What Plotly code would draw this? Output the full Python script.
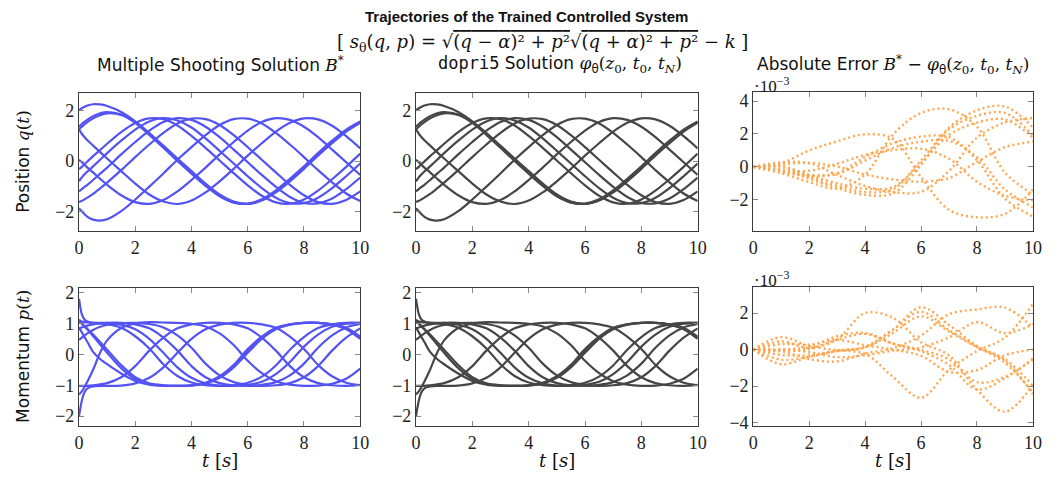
import plotly.graph_objects as go

# ---------------- data ----------------
t_grid = [0, 0.1, 0.2, 0.3, 0.5, 0.75, 1.0, 1.5, 2.0, 2.5, 3.0, 3.5, 4.0, 4.5,
          5.0, 5.5, 6.0, 6.5, 7.0, 7.5, 8.0, 8.5, 9.0, 9.5, 10.0]

# position q(t), one list per trajectory
q_values = [
    [2.0, 2.079, 2.142, 2.19, 2.238, 2.23, 2.17, 1.935, 1.565, 1.105, 0.605, 0.10, -0.40, -0.89, -1.32, -1.60, -1.695, -1.56, -1.24, -0.80, -0.31, 0.21, 0.70, 1.16, 1.51],
    [1.35, 1.457, 1.55, 1.635, 1.77, 1.885, 1.93, 1.83, 1.50, 1.03, 0.52, 0.0, -0.50, -0.98, -1.39, -1.64, -1.68, -1.51, -1.16, -0.70, -0.21, 0.31, 0.80, 1.24, 1.56],
    [1.25, 1.35, 1.45, 1.535, 1.68, 1.81, 1.88, 1.82, 1.53, 1.08, 0.56, 0.05, -0.45, -0.94, -1.35, -1.62, -1.69, -1.54, -1.20, -0.75, -0.26, 0.26, 0.75, 1.20, 1.54],
    [1.25, 1.075, 0.94, 0.82, 0.61, 0.35, 0.10, -0.40, -0.89, -1.32, -1.60, -1.695, -1.56, -1.24, -0.80, -0.31, 0.21, 0.70, 1.16, 1.51, 1.68, 1.64, 1.39, 0.98, 0.50],
    [0.05, -0.05, -0.155, -0.26, -0.45, -0.70, -0.94, -1.35, -1.62, -1.69, -1.54, -1.20, -0.75, -0.26, 0.26, 0.75, 1.20, 1.54, 1.69, 1.62, 1.35, 0.94, 0.45, -0.05, -0.55],
    [-0.32, -0.23, -0.12, -0.02, 0.19, 0.43, 0.68, 1.14, 1.50, 1.68, 1.645, 1.40, 0.99, 0.52, 0.02, -0.48, -0.96, -1.37, -1.63, -1.685, -1.52, -1.17, -0.72, -0.23, 0.29],
    [-0.8, -0.645, -0.525, -0.416, -0.21, 0.05, 0.31, 0.80, 1.24, 1.56, 1.695, 1.60, 1.32, 0.89, 0.40, -0.10, -0.60, -1.07, -1.45, -1.66, -1.66, -1.45, -1.07, -0.60, -0.10],
    [-1.20, -1.11, -1.02, -0.94, -0.75, -0.50, -0.26, 0.26, 0.75, 1.20, 1.54, 1.69, 1.62, 1.35, 0.94, 0.45, -0.05, -0.55, -1.02, -1.42, -1.65, -1.67, -1.48, -1.11, -0.65],
    [-1.62, -1.57, -1.51, -1.445, -1.30, -1.08, -0.85, -0.36, 0.155, 0.65, 1.11, 1.48, 1.67, 1.65, 1.42, 1.02, 0.55, 0.05, -0.45, -0.94, -1.35, -1.62, -1.69, -1.54, -1.20],
    [-1.86, -1.985, -2.10, -2.20, -2.31, -2.35, -2.30, -1.98, -1.52, -1.01, -0.49, 0.05, 0.55, 1.02, 1.42, 1.65, 1.67, 1.48, 1.11, 0.65, 0.155, -0.36, -0.84, -1.28, -1.58],
]

# momentum p(t), one list per trajectory
p_values = [
    [0.87, 0.71, 0.55, 0.40, 0.08, -0.15, -0.32, -0.62, -0.86, -0.98, -1.02, -1.02, -1.01, -0.94, -0.76, -0.42, 0.05, 0.50, 0.81, 0.96, 1.02, 1.02, 0.97, 0.86, 0.57],
    [1.12, 1.01, 0.90, 0.80, 0.59, 0.32, 0.05, -0.45, -0.80, -0.96, -1.01, -1.02, -1.0, -0.92, -0.71, -0.34, 0.17, 0.57, 0.86, 0.97, 1.02, 1.02, 0.96, 0.81, 0.50],
    [1.08, 0.99, 0.90, 0.82, 0.64, 0.40, 0.15, -0.35, -0.74, -0.94, -1.0, -1.02, -1.0, -0.93, -0.74, -0.38, 0.12, 0.54, 0.84, 0.97, 1.02, 1.02, 0.97, 0.84, 0.54],
    [-2.0, -1.5, -1.22, -1.10, -1.04, -1.02, -1.02, -1.01, -0.94, -0.76, -0.42, 0.05, 0.50, 0.81, 0.96, 1.02, 1.02, 0.97, 0.86, 0.57, 0.17, -0.34, -0.71, -0.92, -1.0],
    [-1.02, -1.02, -1.02, -1.02, -1.0, -0.97, -0.93, -0.74, -0.38, 0.12, 0.54, 0.84, 0.97, 1.02, 1.02, 0.97, 0.84, 0.54, 0.12, -0.38, -0.74, -0.93, -1.0, -1.02, -0.99],
    [1.10, 1.06, 1.04, 1.03, 1.02, 1.0, 0.975, 0.86, 0.585, 0.19, -0.32, -0.70, -0.91, -1.0, -1.02, -1.0, -0.92, -0.72, -0.36, 0.15, 0.56, 0.85, 0.97, 1.02, 1.02],
    [1.8, 1.3, 1.12, 1.06, 1.02, 1.02, 1.02, 0.96, 0.81, 0.50, 0.05, -0.42, -0.76, -0.94, -1.01, -1.02, -0.99, -0.89, -0.64, -0.25, 0.25, 0.64, 0.89, 0.99, 1.02],
    [0.84, 0.87, 0.90, 0.93, 0.97, 1.0, 1.02, 1.02, 0.97, 0.84, 0.54, 0.12, -0.38, -0.74, -0.93, -1.0, -1.02, -0.99, -0.90, -0.68, -0.30, 0.21, 0.61, 0.87, 0.98],
    [0.47, 0.54, 0.61, 0.68, 0.79, 0.89, 0.95, 1.01, 1.02, 0.98, 0.87, 0.61, 0.21, -0.30, -0.68, -0.90, -0.99, -1.02, -1.0, -0.93, -0.74, -0.38, 0.12, 0.54, 0.84],
    [-1.30, -1.20, -1.05, -0.88, -0.50, 0.05, 0.45, 0.85, 1.0, 1.04, 1.03, 1.02, 0.99, 0.90, 0.68, 0.30, -0.21, -0.61, -0.87, -0.98, -1.02, -1.01, -0.95, -0.79, -0.46],
]

t_err = [0, 1, 2, 3, 4, 5, 6, 7, 8, 9, 10]

# absolute error of q (units of 1e-3)
q_error = [
    [0, -0.13, -0.72, -1.29, -1.70, -1.60, 0.13, 2.38, 3.43, 3.67, 2.39],
    [0, 0.02, -0.61, -1.15, -1.52, -1.35, 0.39, 2.29, 3.10, 3.28, 1.90],
    [0, 0.05, -0.49, -0.99, -1.32, -1.22, 0.24, 1.94, 2.69, 2.88, 1.78],
    [0, -0.31, -0.56, -0.38, 0.60, 1.44, 1.84, 1.81, 0.41, -1.92, -3.0],
    [0, 0.28, 0.23, -0.49, -1.16, -1.53, -1.51, -0.25, 1.78, 2.70, 2.97],
    [0, -0.20, -0.23, 0.19, 0.73, 1.02, 1.10, 0.50, -0.90, -1.75, -2.04],
    [0, 0.15, 0.24, 0.02, -0.46, -0.76, -0.89, -0.67, 0.30, 1.20, 1.53],
    [0, -0.26, -0.49, -0.41, 0.38, 1.16, 1.53, 1.58, 0.60, -1.37, -2.45],
    [0, -0.38, -0.92, -1.31, -0.46, 1.97, 3.27, 3.50, 2.44, -0.34, -1.68],
    [0, 0.23, 1.0, 1.55, 1.98, 1.70, -0.61, -2.61, -3.06, -2.85, -1.38],
]

# absolute error of p (units of 1e-3)
p_error = [
    [0, -0.29, -0.30, -0.05, 0.13, 1.09, 2.32, 1.35, 0.20, -0.60, -2.44],
    [0, -0.80, -0.39, -0.07, 0.15, 1.10, 2.07, 1.06, 0.15, -0.72, -2.36],
    [0, -0.55, -0.39, -0.08, 0.12, 0.91, 1.82, 0.99, 0.13, -0.53, -1.98],
    [0, 0.01, 0.15, 0.73, 0.91, 0.32, -0.09, -0.84, -2.18, -1.57, -0.48],
    [0, -0.08, -0.52, -0.65, -0.22, 0.08, 0.77, 1.93, 2.2, 2.3, 1.2],
    [0, 0.30, 0.27, 0.53, 0.24, 0.0, -0.34, -1.22, -1.12, -0.31, 0.0],
    [0, -0.01, -0.14, -0.41, -0.31, -0.06, 0.12, 0.67, 1.5, 0.9, 1.4],
    [0, 0.45, 0.09, 0.54, 0.86, 0.33, -0.02, -0.54, -1.78, -1.49, -0.55],
    [0, -0.09, 0.03, 0.56, 2.0, 1.74, 0.40, -0.32, -2.2, -3.4, -1.9],
    [0, 0.68, 0.19, -0.03, -0.24, -1.5, -2.64, -1.11, -0.09, 0.66, 2.5],
]

x_ticks = [0, 2, 4, 6, 8, 10]
q_ticks = [-2, 0, 2]
p_ticks = [-2, -1, 0, 1, 2]
eq_ticks = [-2, 0, 2, 4]
ep_ticks = [-4, -2, 0, 2]

# ---------------- styling ----------------
W, H = 1056, 487
BLUE = "#5353f3"
GRAY = "#464646"
ORANGE = "#ffa64f"
AXC = "#3a3a3a"
SERIF = "Liberation Serif"
MATH = "DejaVu Serif"
SANS = "DejaVu Sans"


def px(x):
    return x / W


def py(y):
    return 1 - y / H


fig = go.Figure()

cols = [(75, 360), (416.5, 702), (758.3, 1041.7)]
rows_main = [(90, 231.7), (290, 431.7)]
rows_err = [(89, 231.7), (289.3, 431.7)]

axis_ids = {}
k = 0
for r in range(2):
    for c in range(3):
        k += 1
        axis_ids[(r, c)] = k

for r in range(2):
    for c in range(3):
        k = axis_ids[(r, c)]
        series_vals = q_values if r == 0 else p_values
        if c < 2:
            color = BLUE if c == 0 else GRAY
            for vals in series_vals:
                fig.add_trace(go.Scatter(
                    x=t_grid, y=vals, mode="lines",
                    line=dict(color=color, width=2.2, shape="spline", smoothing=0.8),
                    xaxis=f"x{k}", yaxis=f"y{k}", showlegend=False, hoverinfo="skip"))
        else:
            evals = q_error if r == 0 else p_error
            for vals in evals:
                fig.add_trace(go.Scatter(
                    x=t_err, y=vals, mode="lines",
                    line=dict(color=ORANGE, width=2.4, shape="spline", smoothing=1.0,
                              dash="2px,3px"),
                    xaxis=f"x{k}", yaxis=f"y{k}", showlegend=False, hoverinfo="skip"))

layout = dict(
    width=W, height=H, margin=dict(l=0, r=0, t=0, b=0),
    paper_bgcolor="white", plot_bgcolor="white", showlegend=False,
)

common = dict(showline=True, linecolor=AXC, linewidth=1.1, mirror="ticks",
              ticks="inside", ticklen=5, tickcolor="#888888", tickwidth=1,
              showgrid=False, zeroline=False,
              tickfont=dict(family=SERIF, size=18, color="#222222"))

yranges = {0: [-2.76, 2.69], 1: [-2.32, 2.15]}
yticks = {0: q_ticks, 1: p_ticks}
for r in range(2):
    for c in range(3):
        k = axis_ids[(r, c)]
        x0, x1 = cols[c]
        if c < 2:
            y0, y1 = rows_main[r]
            yr = yranges[r]
            yt = yticks[r]
        else:
            y0, y1 = rows_err[r]
            yr = [-3.89, 4.56] if r == 0 else [-4.19, 3.42]
            yt = eq_ticks if r == 0 else ep_ticks
        xa = dict(common, domain=[px(x0), px(x1)], range=[0, 10], tickvals=x_ticks,
                  anchor=f"y{k}")
        ya = dict(common, domain=[py(y1), py(y0)], range=yr, tickvals=yt,
                  anchor=f"x{k}")
        layout[f"xaxis{'' if k == 1 else k}"] = xa
        layout[f"yaxis{'' if k == 1 else k}"] = ya

fig.update_layout(**layout)

ann = []


def add_text(x, y, text, size=15, family=SANS, xanchor="center", yanchor="middle",
             angle=0, color="#111111"):
    ann.append(dict(x=px(x), y=py(y), xref="paper", yref="paper", text=text,
                    showarrow=False, xanchor=xanchor, yanchor=yanchor, textangle=angle,
                    font=dict(family=family, size=size, color=color)))


def m(s):
    return f"<span style='font-family:{MATH}'><i>{s}</i></span>"


ARGS = ("<span style='font-family:" + MATH + "'>(<i>z</i><sub>0</sub>, "
        "<i>t</i><sub>0</sub>, <i>t<sub>N</sub></i>)</span>")

add_text(528, 12, "<b>Trajectories of the Trained Controlled System</b>", size=15,
         family="Liberation Sans")
ov = "text-decoration:overline"
formula = (f"[ <i>s</i><sub>θ</sub>(<i>q</i>, <i>p</i>) = "
           f"√<span style='{ov}'>(<i>q</i> − <i>α</i>)² + <i>p</i>²</span>"
           f"√<span style='{ov}'>(<i>q</i> + <i>α</i>)² + <i>p</i>²</span> − <i>k</i> ]")
add_text(545, 39, formula, size=18, family=MATH)

add_text(218, 61, "Multiple Shooting Solution " + m("B") + "<sup>*</sup>", size=17)
add_text(562, 61, "<span style='font-family:DejaVu Sans Mono'>dopri5</span> Solution "
         + m("φ") + "<sub>θ</sub>" + ARGS, size=17)
add_text(900, 61, "Absolute Error " + m("B") + "<sup>*</sup> − " + m("φ") + "<sub>θ</sub>"
         + ARGS, size=17)

add_text(757, 82, "·10<sup>−3</sup>", size=17, family=SERIF, xanchor="left")
add_text(757, 281, "·10<sup>−3</sup>", size=17, family=SERIF, xanchor="left")

for cx in (218, 559, 900):
    add_text(cx, 467, "<i>t</i> [<i>s</i>]", size=18, family=MATH)

add_text(18, 160, "Position " + m("q") + "<span style='font-family:" + MATH + "'>(<i>t</i>)</span>",
         size=17, angle=-90)
add_text(18, 360, "Momentum " + m("p") + "<span style='font-family:" + MATH + "'>(<i>t</i>)</span>",
         size=17, angle=-90)

fig.update_layout(annotations=ann)
fig.write_html("out.html")
